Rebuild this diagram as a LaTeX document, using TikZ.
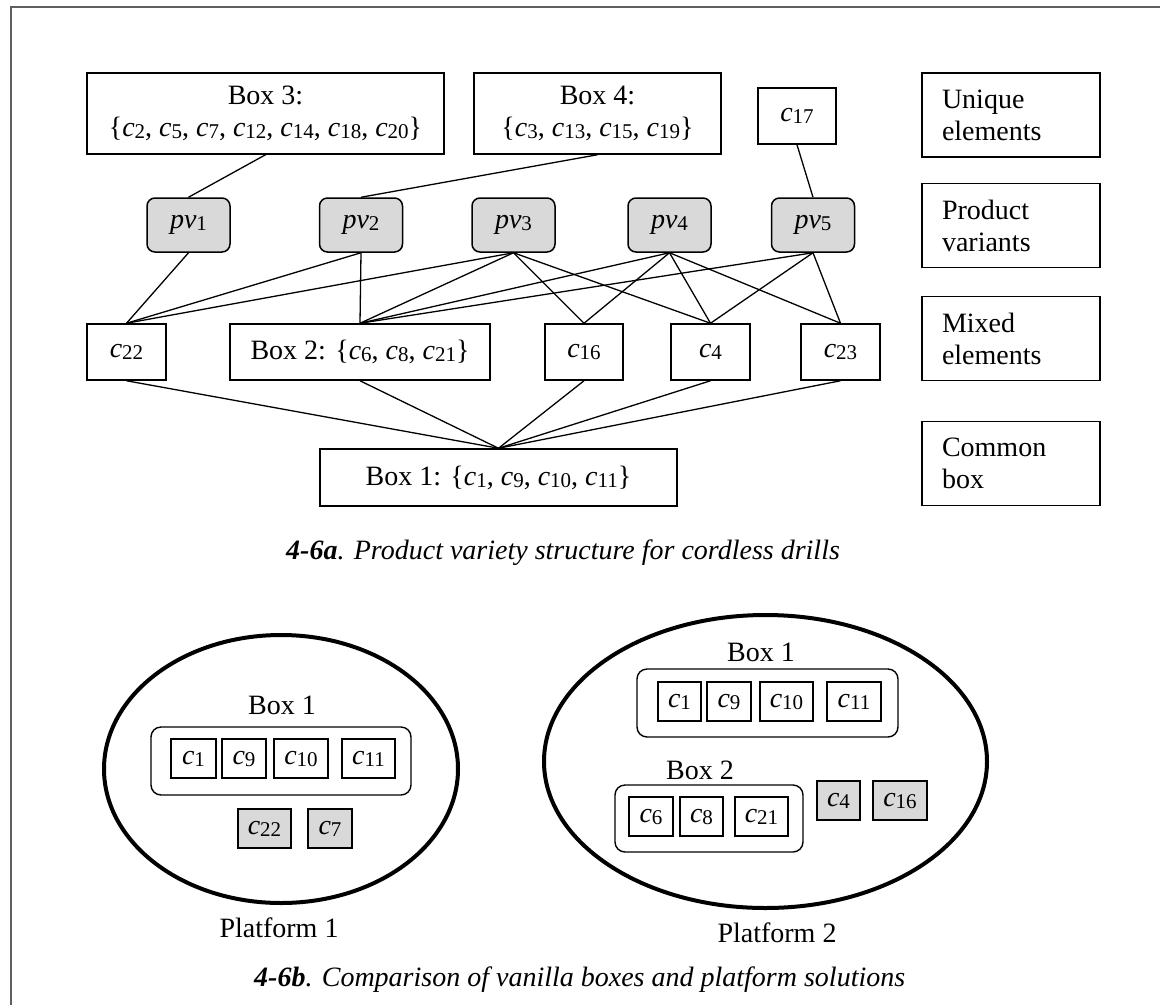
\documentclass[tikz,border=0pt]{standalone}
\usepackage{fontspec}
\setmainfont{Liberation Serif}
% element name with an upright, smaller index
\newcommand\ci[2]{\textit{#1}\raisebox{-2pt}{\fontsize{21}{21}\selectfont #2}}
\definecolor{shade}{RGB}{217,217,217}
\definecolor{framegray}{RGB}{95,95,95}
\begin{document}
\begin{tikzpicture}[x=1pt,y=-1pt,
  every node/.style={font=\fontsize{28}{32}\selectfont, inner sep=0pt},
  box/.style={draw, line width=1.5pt, minimum height=56pt},
  bigbox/.style={draw, line width=1.5pt, minimum height=81pt, align=center},
  pvbox/.style={draw, line width=1.5pt, rounded corners=8pt, fill=shade,
                minimum width=83pt, minimum height=54pt},
  legend/.style={draw, line width=1.5pt, minimum width=178pt, minimum height=84pt,
                 text width=138pt, align=left},
  conn/.style={line width=1.3pt},
  elem/.style={draw, line width=1.4pt, minimum height=39pt},
  grayelem/.style={elem, fill=shade},
  group/.style={draw, line width=1.4pt, rounded corners=10pt},
  platform/.style={line width=4pt},
  caption/.style={anchor=west}
]
\useasboundingbox (0,0) rectangle (1160,1005);
\draw[framegray, line width=1.8pt] (11,1005) -- (11,7) -- (1160,7);

% ---------- product variety structure ----------
\node[bigbox, minimum width=357pt] (box3) at (265.5,113.5)
  {Box 3:\\\{\ci{c}{2}, \ci{c}{5}, \ci{c}{7}, \ci{c}{12}, \ci{c}{14}, \ci{c}{18}, \ci{c}{20}\}};
\node[bigbox, minimum width=247pt] (box4) at (597.5,113.5)
  {Box 4:\\\{\ci{c}{3}, \ci{c}{13}, \ci{c}{15}, \ci{c}{19}\}};
\node[box, minimum width=78pt] (c17) at (797,116) {\ci{c}{17}};

\node[pvbox] (pv1) at (188.5,225) {\ci{pv}{1}};
\node[pvbox] (pv2) at (361,225) {\ci{pv}{2}};
\node[pvbox] (pv3) at (513.5,225) {\ci{pv}{3}};
\node[pvbox] (pv4) at (669.5,225) {\ci{pv}{4}};
\node[pvbox] (pv5) at (813,225) {\ci{pv}{5}};

\node[box, minimum width=79pt] (c22) at (126.5,352) {\ci{c}{22}};
\node[box, minimum width=260pt] (box2) at (360,352)
  {Box 2: \{\ci{c}{6}, \ci{c}{8}, \ci{c}{21}\}};
\node[box, minimum width=78pt] (c16) at (584,352) {\ci{c}{16}};
\node[box, minimum width=79pt] (c4) at (710.5,352) {\ci{c}{4}};
\node[box, minimum width=79pt] (c23) at (840.5,352) {\ci{c}{23}};

\node[box, minimum width=357pt, minimum height=57pt] (box1) at (498.5,477.5)
  {Box 1: \{\ci{c}{1}, \ci{c}{9}, \ci{c}{10}, \ci{c}{11}\}};

\node[legend] (lu) at (1011,115) {Unique\\elements};
\node[legend] (lp) at (1011,225.5) {Product\\variants};
\node[legend] (lm) at (1011,338.5) {Mixed\\elements};
\node[legend] (lc) at (1011,463.5) {Common\\box};

\draw[conn] (box3.south) -- (pv1.north);
\draw[conn] (box4.south) -- (pv2.north);
\draw[conn] (c17.south) -- (pv5.north);

\draw[conn] (pv1.south) -- (c22.north);
\draw[conn] (pv2.south) -- (c22.north);
\draw[conn] (pv2.south) -- (box2.north);
\draw[conn] (pv3.south) -- (c22.north);
\draw[conn] (pv3.south) -- (box2.north);
\draw[conn] (pv3.south) -- (c16.north);
\draw[conn] (pv3.south) -- (c4.north);
\draw[conn] (pv4.south) -- (box2.north);
\draw[conn] (pv4.south) -- (c16.north);
\draw[conn] (pv4.south) -- (c4.north);
\draw[conn] (pv4.south) -- (c23.north);
\draw[conn] (pv5.south) -- (box2.north);
\draw[conn] (pv5.south) -- (c4.north);
\draw[conn] (pv5.south) -- (c23.north);

\foreach \m in {c22,box2,c16,c4,c23}
  \draw[conn] (\m.south) -- (box1.north);

\node[caption] (capa) at (286,553)
  {\textbf{\textit{4-6a}}\textit{. Product variety structure for cordless drills}};

% ---------- platform 1 ----------
\draw[platform] (281,769) ellipse [x radius=177, y radius=134];
\node (p1b1) at (282,705) {Box 1};
\node[group, minimum width=260pt, minimum height=68pt] (p1g1) at (281,761) {};
\node[elem, minimum width=45pt] (p1c1) at (193.5,758.5) {\ci{c}{1}};
\node[elem, minimum width=44pt] (p1c9) at (244,758.5) {\ci{c}{9}};
\node[elem, minimum width=54pt] (p1c10) at (301,758.5) {\ci{c}{10}};
\node[elem, minimum width=53pt] (p1c11) at (368.5,758.5) {\ci{c}{11}};
\node[grayelem, minimum width=53pt] (p1c22) at (264.5,828.5) {\ci{c}{22}};
\node[grayelem, minimum width=44pt] (p1c7) at (330,828.5) {\ci{c}{7}};
\node (pl1) at (279,928) {Platform 1};

% ---------- platform 2 ----------
\draw[platform] (765.5,761.5) ellipse [x radius=221.5, y radius=146.5];
\node (p2b1) at (761,652) {Box 1};
\node[group, minimum width=261pt, minimum height=68pt] (p2g1) at (767.5,703) {};
\node[elem, minimum width=43pt] (p2c1) at (679.5,701.5) {\ci{c}{1}};
\node[elem, minimum width=44pt] (p2c9) at (729,701.5) {\ci{c}{9}};
\node[elem, minimum width=53pt] (p2c10) at (786.5,701.5) {\ci{c}{10}};
\node[elem, minimum width=54pt] (p2c11) at (854,701.5) {\ci{c}{11}};
\node (p2b2) at (700,770) {Box 2};
\node[group, minimum width=188pt, minimum height=67pt] (p2g2) at (709,818.5) {};
\node[elem, minimum width=44pt] (p2c6) at (651,816.5) {\ci{c}{6}};
\node[elem, minimum width=43pt] (p2c8) at (701.5,816.5) {\ci{c}{8}};
\node[elem, minimum width=53pt] (p2c21) at (761.5,816.5) {\ci{c}{21}};
\node[grayelem, minimum width=43pt] (p2c4) at (838.5,800.5) {\ci{c}{4}};
\node[grayelem, minimum width=54pt] (p2c16) at (900,800.5) {\ci{c}{16}};
\node (pl2) at (777,933) {Platform 2};

\node[caption] (capb) at (254,980)
  {\textbf{\textit{4-6b}}\textit{. Comparison of vanilla boxes and platform solutions}};
\end{tikzpicture}
\end{document}
